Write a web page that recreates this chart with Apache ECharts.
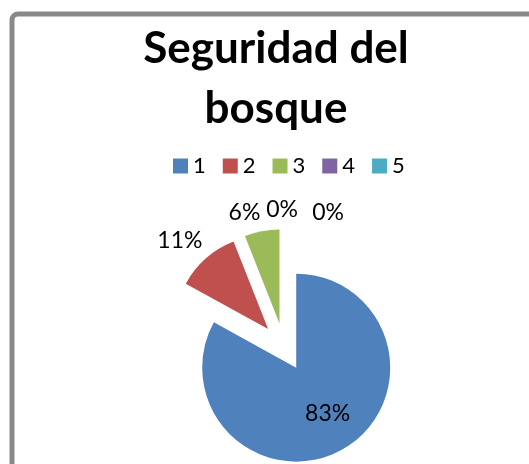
<!DOCTYPE html>
<html>
<head>
<meta charset="utf-8">
<script src="https://cdn.jsdelivr.net/npm/echarts@6/dist/echarts.min.js"></script>
<style>
  html, body { margin: 0; padding: 0; background: #fff; }
  #main { width: 529px; height: 464px; }
</style>
</head>
<body>
<div id="main"></div>
<script>
  // datos
  var categories = ['1', '2', '3', '4', '5'];
  var values = [83, 11, 6, 0, 0];
  var colors = ['#4F81BD', '#C0504D', '#9BBB59', '#8064A2', '#4BACC6'];
  // pequeños ajustes de las etiquetas (px)
  var labelNudge = [[6, 3], [14, -4], [7, 0], [19, 0], [65, 3]];

  var myChart = echarts.init(document.getElementById('main'));

  var pieData = categories.map(function (name, i) {
    var item = {
      name: name,
      value: values[i],
      selected: true,
      itemStyle: { color: colors[i] }
    };
    if (i === 0) {
      item.label = { position: 'inside' };
    }
    return item;
  });

  myChart.setOption({
    animation: false,
    color: colors,
    graphic: [
      {
        type: 'rect',
        shape: { x: 12, y: 14, width: 640, height: 640, r: 6 },
        style: { fill: 'none', stroke: '#898989', lineWidth: 5 },
        z: 0
      },
      {
        type: 'text',
        x: 276,
        y: 19,
        style: {
          text: 'Seguridad del\nbosque',
          fill: '#000',
          font: 'bold 44px Lato',
          lineHeight: 60,
          textAlign: 'center',
          textVerticalAlign: 'top'
        }
      }
    ],
    legend: {
      left: 168,
      top: 150,
      itemWidth: 15,
      itemHeight: 15,
      itemGap: 17,
      icon: 'rect',
      textStyle: { color: '#000', fontSize: 22, fontFamily: 'Lato' },
      data: categories
    },
    series: [{
      name: 'Seguridad del bosque',
      type: 'pie',
      center: [284, 347],
      radius: 94,
      startAngle: 90,
      clockwise: true,
      selectedMode: 'multiple',
      selectedOffset: 24,
      avoidLabelOverlap: false,
      minShowLabelAngle: -1,
      label: {
        show: true,
        position: 'outside',
        formatter: '{d}%',
        color: '#000',
        fontSize: 23,
        fontFamily: 'Lato'
      },
      labelLine: { show: false, length: 19, length2: 0 },
      labelLayout: function (params) {
        var n = labelNudge[params.dataIndex];
        return { dx: n[0], dy: n[1] };
      },
      emphasis: { disabled: true },
      data: pieData
    }]
  });
</script>
</body>
</html>
